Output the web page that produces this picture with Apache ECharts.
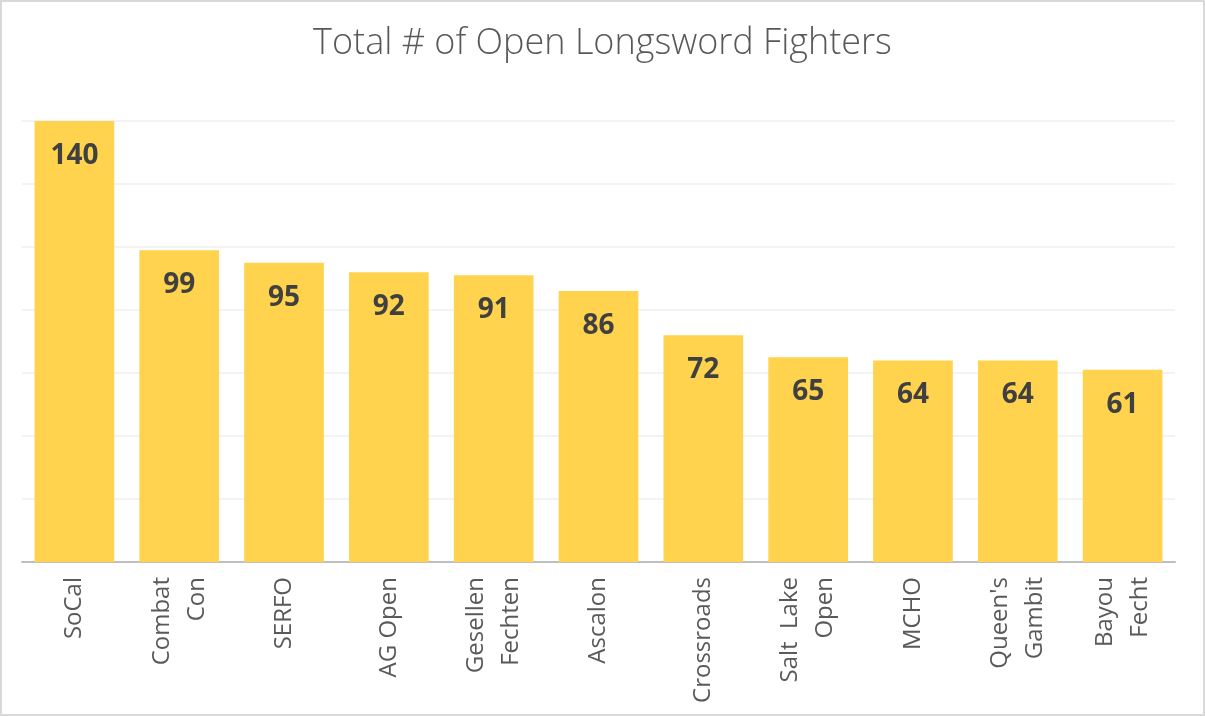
<!DOCTYPE html>
<html><head><meta charset="utf-8">
<script src="https://cdn.jsdelivr.net/npm/echarts@6/dist/echarts.min.js"></script>
<style>html,body{margin:0;padding:0;background:#fff}#c{width:1205px;height:716px}</style>
</head><body><div id="c"></div>
<script>
const categories = ["SoCal","Combat\nCon","SERFO","AG Open","Gesellen\nFechten","Ascalon","Crossroads","Salt  Lake\nOpen","MCHO","Queen's\nGambit","Bayou\nFecht"];
const fighters = [140,99,95,92,91,86,72,65,64,64,61];
const chart = echarts.init(document.getElementById('c'));
chart.setOption({
  animation:false,
  backgroundColor:'#fff',
  graphic:[{type:'rect',shape:{x:1,y:1,width:1203,height:714},style:{fill:'none',stroke:'#d9d9d9',lineWidth:2},z:100}],
  title:{text:'Total # of Open Longsword Fighters',left:'center',top:21,
    textStyle:{fontFamily:'Open Sans',fontWeight:300,fontSize:36,color:'#595959'}},
  grid:{left:22,right:30,top:121,bottom:154,containLabel:false},
  xAxis:{type:'category',data:categories,
    axisLine:{lineStyle:{color:'#bfbfbf',width:2}},
    axisTick:{show:false},
    axisLabel:{rotate:90,margin:15,fontFamily:'Open Sans',fontSize:24,color:'#595959',lineHeight:35,interval:0}},
  yAxis:{type:'value',min:0,max:140,interval:20,
    axisLabel:{show:false},axisLine:{show:false},axisTick:{show:false},
    splitLine:{lineStyle:{color:'#efefef',width:1.5}}},
  series:[{type:'bar',data:fighters,barCategoryGap:'24%',
    itemStyle:{color:'#FFD34D'},
    label:{show:true,position:'insideTop',distance:21,fontFamily:'Open Sans',fontWeight:'bold',fontSize:28,color:'#404040'}}]
});
</script></body></html>
